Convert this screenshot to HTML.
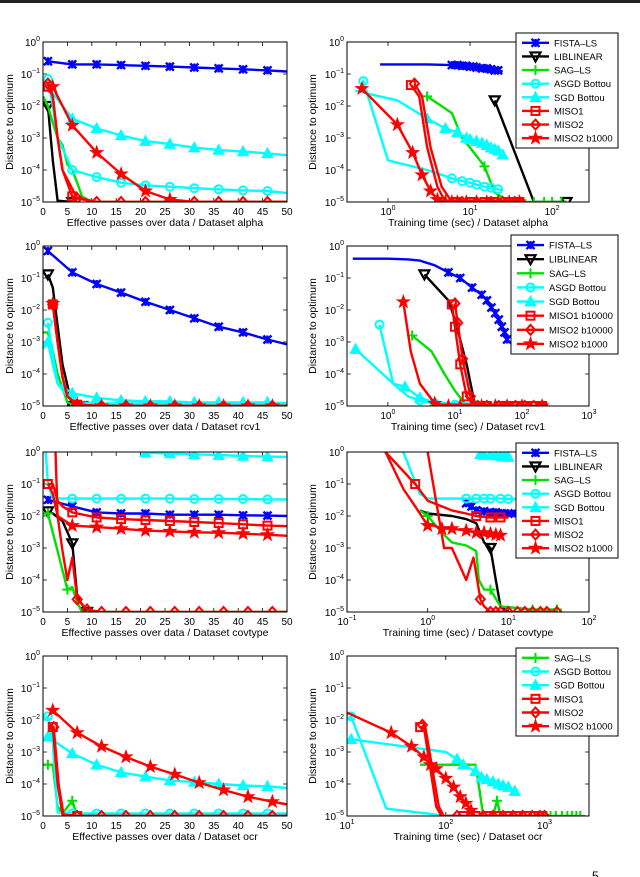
<!DOCTYPE html>
<html><head><meta charset="utf-8">
<style>
html,body{margin:0;padding:0;background:#fff;}
svg{display:block;font-family:"Liberation Sans",Arial,sans-serif;}
</style></head>
<body>
<svg id="fig" width="640" height="877" viewBox="0 0 640 877" xmlns="http://www.w3.org/2000/svg">
<rect x="0" y="0" width="640" height="3" fill="#222"/>
<text x="592" y="880" font-size="12">5</text>
</svg>
<script>
// ---- series data (x, y = distance to optimum, m = indices with markers) ----
const p1 = [
 {k:'FISTA', x:[1,6,11,16,21,26,31,36,41,46,50], y:[0.25,0.2,0.2,0.19,0.18,0.17,0.16,0.15,0.14,0.13,0.12], m:[0,1,2,3,4,5,6,7,8,9]},
 {k:'LIB', x:[0,1,2,3,6], y:[0.02,0.01,2e-4,1.1e-5,1e-5], m:[1,4]},
 {k:'SAG', x:[0,1,2,3,4,5,6,7,8,10,50], y:[0.02,0.01,3e-3,1e-3,6e-4,1.5e-4,1e-4,4e-5,1.5e-5,1e-5,1e-5], m:[]},
 {k:'ASGD', x:[0,1,2,3,6,11,16,21,26,31,36,41,46,50], y:[0.03,0.07,0.01,1e-3,1e-4,6e-5,4e-5,3.3e-5,3e-5,2.7e-5,2.5e-5,2.3e-5,2.2e-5,1.9e-5], m:[1,4,5,6,7,8,9,10,11,12]},
 {k:'SGD', x:[0,1,6,11,16,21,26,31,36,41,46,50], y:[0.03,0.04,4e-3,2e-3,1.2e-3,8e-4,6.5e-4,5e-4,4.2e-4,3.8e-4,3.3e-4,2.9e-4], m:[1,2,3,4,5,6,7,8,9,10]},
 {k:'MISO1', x:[1,2,3,4,6,11,50], y:[0.04,0.02,1e-3,1e-4,1.5e-5,1e-5,1e-5], m:[0,4]},
 {k:'MISO2', x:[1,2,3,4,7,11,16,21,26,31,36,41,46,50], y:[0.05,0.02,1e-3,1e-4,1.3e-5,1e-5,1e-5,1e-5,1e-5,1e-5,1e-5,1e-5,1e-5,1e-5], m:[0,4,5,6,7,8,9,10,11,12]},
 {k:'B1000', x:[2,6,11,16,21,26,31,36,41,46,50], y:[0.04,2.5e-3,3.5e-4,7.5e-5,2.2e-5,1.2e-5,1e-5,1e-5,1e-5,1e-5,1e-5], m:[0,1,2,3,4,5]}
];
const p2 = [
 {k:'FISTA', x:[0.8,3,6,7,8,9,10,11,12,14,16,18,20,22,25], y:[0.2,0.2,0.19,0.19,0.18,0.18,0.17,0.17,0.16,0.15,0.15,0.14,0.13,0.13,0.12], m:[2,3,4,5,6,7,8,9,10,11,12,13]},
 {k:'LIB', x:[20,60,80,150], y:[0.015,1e-5,1e-5,1e-5], m:[0,3]},
 {k:'SAG', x:[3,6,8,10,15,20,30,40,60,80,100,130], y:[0.02,6e-3,1e-3,5e-4,1.3e-4,2e-5,1e-5,1e-5,1e-5,1e-5,1e-5,1e-5], m:[0,4,8,9,10,11]},
 {k:'ASGD', x:[0.45,0.5,1.0,3,6,8,10,12,15,18,22,25], y:[0.03,0.06,2e-4,1e-4,5.5e-5,4.5e-5,4e-5,3.5e-5,3e-5,2.8e-5,2.5e-5,2.2e-5], m:[1,4,5,6,7,8,9,10]},
 {k:'SGD', x:[0.4,1.3,3,5,7,9,10,12,14,16,18,20,22,25], y:[0.03,0.015,4e-3,2e-3,1.5e-3,1e-3,9e-4,8e-4,7e-4,6e-4,5e-4,4.5e-4,4e-4,3e-4], m:[2,3,4,5,6,7,8,9,10,11,12,13]},
 {k:'MISO1', x:[1.9,2.4,3,4,5,7,10,15,20,30,40], y:[0.045,0.02,5e-4,3e-5,1e-5,1e-5,1e-5,1e-5,1e-5,1e-5,1e-5], m:[0,5,6,7,8,9,10]},
 {k:'MISO2', x:[2.1,2.6,3.3,4.5,6,8,12,18,25,35,40], y:[0.05,0.02,5e-4,3e-5,1e-5,1e-5,1e-5,1e-5,1e-5,1e-5,1e-5], m:[0,5,6,7,8,9,10]},
 {k:'B1000', x:[0.48,1.3,2.0,2.6,3.3,4,5,6,7,9,12,16,22,30,40], y:[0.035,2.6e-3,3.5e-4,7e-5,2.2e-5,1.2e-5,1e-5,1e-5,1e-5,1e-5,1e-5,1e-5,1e-5,1e-5,1e-5]}
];
const p3 = [
 {k:'FISTA', x:[1,6,11,16,21,26,31,36,41,46,50], y:[0.7,0.15,0.065,0.035,0.018,0.01,0.0055,0.003,0.002,0.0012,0.00085], m:[0,1,2,3,4,5,6,7,8,9]},
 {k:'LIB', x:[1,2,4,6,8], y:[0.13,0.05,2e-4,1e-5,1e-5], m:[0,3,4]},
 {k:'SAG', x:[0,1,2,3,5,7,50], y:[2e-3,2e-3,5e-4,1e-4,1.3e-5,1e-5,1e-5], m:[]},
 {k:'ASGD', x:[1,2,3,5,8,11,50], y:[4e-3,4e-4,5e-5,2e-5,1.3e-5,1.2e-5,1.2e-5], m:[0]},
 {k:'SGD', x:[0,1,2,3,6,11,16,21,26,31,36,41,46,50], y:[6e-4,1e-3,2e-4,5e-5,2.5e-5,1.8e-5,1.5e-5,1.4e-5,1.4e-5,1.3e-5,1.3e-5,1.3e-5,1.3e-5,1.2e-5], m:[1,4,5,6,7,8,9,10,11,12]},
 {k:'MISO1', x:[2,3,4,5,7,11,50], y:[0.015,1e-3,8e-5,2e-5,1.1e-5,1e-5,1e-5], m:[0,4]},
 {k:'MISO2', x:[2,3,4,5,7,12,17,22,27,32,37,42,47,50], y:[0.015,1e-3,8e-5,2e-5,1.1e-5,1e-5,1e-5,1e-5,1e-5,1e-5,1e-5,1e-5,1e-5,1e-5], m:[0,4,5,6,7,8,9,10,11,12]},
 {k:'B1000', x:[2,3,4,5,7,12,17,22,27,32,37,42,47,50], y:[0.016,1e-3,8e-5,2e-5,1.1e-5,1e-5,1e-5,1e-5,1e-5,1e-5,1e-5,1e-5,1e-5,1e-5], m:[0,4,5,6,7,8,9,10,11,12]}
];
const p4 = [
 {k:'FISTA', x:[0.3,1,2,3,5,8,12,18,25,30,35,40,45,50,55,60], y:[0.4,0.4,0.38,0.35,0.25,0.15,0.1,0.05,0.03,0.02,0.012,0.008,0.005,0.003,0.002,0.0012], m:[5,6,7,8,9,10,11,12,13,14,15]},
 {k:'LIB', x:[3.5,8,10,15,20,25,40], y:[0.13,0.02,5e-3,2e-4,1e-5,1e-5,1e-5], m:[0]},
 {k:'SAG', x:[2.3,4.5,7,10,15], y:[1.6e-3,5e-4,1e-4,3e-5,1e-5], m:[0]},
 {k:'ASGD', x:[0.75,1.2,2,3,5,10,20], y:[3.5e-3,5e-5,2e-5,1.5e-5,1.2e-5,1.1e-5,1.1e-5], m:[0,3,4,5,6]},
 {k:'SGD', x:[0.33,1.2,1.8,3,5,10,20], y:[6e-4,5e-5,4e-5,1.8e-5,1.3e-5,1.2e-5,1.2e-5], m:[0,2,3,4]},
 {k:'MISO1', x:[9,10,12,15,20,30,45,60,80,110,150,200], y:[0.015,0.003,2e-4,2e-5,1e-5,1e-5,1e-5,1e-5,1e-5,1e-5,1e-5,1e-5]},
 {k:'MISO2', x:[10,11,13,17,22,30,45,60,80,110,150,200], y:[0.016,0.004,3e-4,2e-5,1e-5,1e-5,1e-5,1e-5,1e-5,1e-5,1e-5,1e-5]},
 {k:'B1000', x:[1.7,2.2,3,5,8,12,18,25,40,60,100,200], y:[0.018,5e-4,5e-5,1.2e-5,1e-5,1e-5,1e-5,1e-5,1e-5,1e-5,1e-5,1e-5], m:[0,3,4,5,6,7,8,9,10,11]}
];
const p5 = [
 {k:'FISTA', x:[1,6,11,16,21,26,31,36,41,46,50], y:[0.032,0.02,0.013,0.012,0.012,0.011,0.011,0.011,0.0105,0.0103,0.01], m:[0,1,2,3,4,5,6,7,8,9]},
 {k:'LIB', x:[1,2,4,6,7,9], y:[0.014,0.012,0.007,1.4e-3,3e-5,1e-5], m:[0,3,5]},
 {k:'SAG', x:[0,1,2,3,5,6,7,8,9,50], y:[0.012,0.012,3e-3,8e-4,5e-5,6e-5,2e-5,1e-5,1e-5,1e-5], m:[1,4]},
 {k:'ASGD', x:[0.5,1,2,6,11,16,21,26,31,36,41,46,50], y:[1.5,0.1,0.035,0.035,0.035,0.035,0.035,0.035,0.034,0.034,0.034,0.033,0.033], m:[3,4,5,6,7,8,9,10,11]},
 {k:'SGD', x:[20,21,26,31,36,41,46,50], y:[1.05,0.95,0.9,0.85,0.8,0.75,0.72,0.7], m:[1,2,3,4,5,6]},
 {k:'MISO1', x:[1,2,3,4,6,11,16,21,26,31,36,41,46,50], y:[0.1,0.1,0.03,0.02,0.013,0.009,0.008,0.0075,0.007,0.0065,0.006,0.0055,0.005,0.0048], m:[0,4,5,6,7,8,9,10,11,12]},
 {k:'MISO2', x:[2.5,3,4,5,6,7,9,12,17,22,27,32,37,42,47,50], y:[2,0.01,8e-4,1e-4,5e-4,2.5e-5,1.2e-5,1e-5,1e-5,1e-5,1e-5,1e-5,1e-5,1e-5,1e-5,1e-5], m:[5,6,7,8,9,10,11,12,13,14]},
 {k:'B1000', x:[1,2,3,6,11,16,21,26,31,36,41,46,50], y:[0.1,0.05,0.01,0.005,0.0045,0.004,0.0035,0.0033,0.0031,0.003,0.0028,0.0026,0.0024], m:[3,4,5,6,7,8,9,10,11]}
];
const p6 = [
 {k:'FISTA', x:[3,3.5,4,5,6,7,8,9,10,12], y:[0.025,0.02,0.015,0.014,0.013,0.013,0.012,0.012,0.012,0.012]},
 {k:'LIB', x:[0.8,1,2,3,4,5,6,7,8,10], y:[0.015,0.012,0.01,0.008,0.006,1.5e-3,1e-3,1e-4,1.5e-5,1e-5], m:[6]},
 {k:'SAG', x:[0.8,1,1.5,2,3,4,4.3,5,6,8,20,40], y:[0.015,0.01,3e-3,1.5e-3,1.2e-3,8e-4,1e-4,5e-5,5e-5,1.5e-5,1.2e-5,1.2e-5], m:[1,8,10,11]},
 {k:'ASGD', x:[0.5,0.8,1,1.5,2,3,4,5,6,8,10,15,20], y:[1,0.05,0.035,0.035,0.035,0.035,0.035,0.035,0.035,0.035,0.034,0.034,0.034], m:[5,6,7,8,9,10,11,12]},
 {k:'SGD', x:[4.5,5,6,7,8,9,10], y:[0.85,0.8,0.8,0.78,0.75,0.72,0.7]},
 {k:'MISO1', x:[0.3,0.7,1,2,3,4,6,8,10], y:[1,0.1,0.03,0.015,0.012,0.01,0.009,0.009,0.009], m:[1,5,6,7]},
 {k:'MISO2', x:[1.0,1.6,2,3,3.7,4.5,5,6,7,8,10,13,16,20,25,30,40], y:[1,1e-3,1e-3,1e-4,5e-4,2.5e-5,1.5e-5,1e-5,1e-5,1e-5,1e-5,1e-5,1e-5,1e-5,1e-5,1e-5,1e-5], m:[5,7,8,9,10,11,12,13,14,15,16]},
 {k:'B1000', x:[0.3,0.5,0.7,1,1.2,1.5,2,3,4,5,6,7,8], y:[1,0.07,0.02,0.005,0.005,0.004,0.004,0.0035,0.003,0.003,0.0028,0.0026,0.0025], m:[3,5,6,7,8,9,10,11,12]}
];
const p7 = [
 {k:'SAG', x:[0,1,2,3,4,6,7,50], y:[4e-4,4e-4,4e-4,2e-5,1.2e-5,3e-5,1e-5,1e-5], m:[1,5]},
 {k:'ASGD', x:[0,1,2,3,6,11,16,21,26,31,36,41,46,50], y:[0.01,0.013,2e-3,1.3e-5,1.2e-5,1.2e-5,1.2e-5,1.2e-5,1.2e-5,1.2e-5,1.2e-5,1.2e-5,1.2e-5,1.2e-5], m:[1,4,5,6,7,8,9,10,11,12]},
 {k:'SGD', x:[0,1,6,11,16,21,26,31,36,41,46,50], y:[2.5e-3,3e-3,9e-4,4e-4,2.3e-4,1.7e-4,1.3e-4,1.15e-4,1.0e-4,9e-5,8.5e-5,7.5e-5], m:[1,2,3,4,5,6,7,8,9,10]},
 {k:'MISO1', x:[1.5,2,3,4,7,12,50], y:[6e-3,6e-3,1e-4,1.1e-5,1e-5,1e-5,1e-5], m:[1,4]},
 {k:'MISO2', x:[1.7,2.2,3.2,4.2,7,12,17,22,27,32,37,42,47,50], y:[7e-3,6e-3,1e-4,1.1e-5,1e-5,1e-5,1e-5,1e-5,1e-5,1e-5,1e-5,1e-5,1e-5,1e-5], m:[1,4,5,6,7,8,9,10,11,12]},
 {k:'B1000', x:[2,7,12,17,22,27,32,37,42,47,50], y:[0.02,4e-3,1.5e-3,7e-4,3.5e-4,2e-4,1.1e-4,6.5e-5,4e-5,2.8e-5,2.3e-5], m:[0,1,2,3,4,5,6,7,8,9]}
];
const p8 = [
 {k:'SAG', x:[55,90,200,215,240,300,330,360,1000,1150,1300,1500,1700,1900,2100,2300], y:[4e-4,4e-4,4e-4,1e-4,1e-5,1e-5,3e-5,1e-5,1e-5,1e-5,1e-5,1e-5,1e-5,1e-5,1e-5,1e-5], m:[6,8,9,10,11,12,13,14,15]},
 {k:'ASGD', x:[10,11,25,80,90,110,150,200,300,400,600,900], y:[0.01,0.013,1.7e-5,1.1e-5,1e-5,1e-5,1e-5,1e-5,1e-5,1e-5,1e-5,1e-5], m:[1]},
 {k:'SGD', x:[11,100,130,150,200,230,260,300,340,380,430,500], y:[2.5e-3,1e-3,6e-4,4e-4,2.5e-4,1.6e-4,1.4e-4,1.2e-4,1e-4,9e-5,8e-5,6e-5], m:[0,2,3,4,5,6,7,8,9,10,11]},
 {k:'MISO1', x:[55,60,80,90,150,200,260,330,420,520,650,800,950], y:[6e-3,6e-3,2e-5,1e-5,1e-5,1e-5,1e-5,1e-5,1e-5,1e-5,1e-5,1e-5,1e-5], m:[0,4,5,6,7,8,9,10,11,12]},
 {k:'MISO2', x:[58,62,85,95,130,180,240,300,380,480,600,750,900,1000], y:[7e-3,6e-3,2e-5,1e-5,1e-5,1e-5,1e-5,1e-5,1e-5,1e-5,1e-5,1e-5,1e-5,1e-5], m:[0,4,5,6,7,8,9,10,11,12,13]},
 {k:'B1000', x:[10,28,45,60,70,80,100,120,140,160,180], y:[0.017,4e-3,1.5e-3,7e-4,4e-4,3e-4,1.5e-4,8e-5,4e-5,2.5e-5,1.5e-5], m:[1,2,3,4,5,6,7,8,9,10]}
];
// ---- axis tick labels ----
const linTicks = [0,5,10,15,20,25,30,35,40,45,50];
const yExps = [0,-1,-2,-3,-4,-5];
const legendFull = ['FISTA','LIB','SAG','ASGD','SGD','MISO1','MISO2','B1000'];
const legendNames1 = ['FISTA–LS','LIBLINEAR','SAG–LS','ASGD Bottou','SGD Bottou','MISO1','MISO2','MISO2 b1000'];
const legendNames2 = ['FISTA–LS','LIBLINEAR','SAG–LS','ASGD Bottou','SGD Bottou','MISO1 b10000','MISO2 b10000','MISO2 b1000'];
const legendKeys4 = ['SAG','ASGD','SGD','MISO1','MISO2','B1000'];
const legendNames4 = ['SAG–LS','ASGD Bottou','SGD Bottou','MISO1','MISO2','MISO2 b1000'];

const ST = {FISTA:{c:'#0000ff',mk:'x'},LIB:{c:'#000000',mk:'tv'},SAG:{c:'#00e000',mk:'+'},ASGD:{c:'#00ffff',mk:'o'},SGD:{c:'#00ffff',mk:'t'},MISO1:{c:'#ff0000',mk:'s'},MISO2:{c:'#ff0000',mk:'d'},B1000:{c:'#ff0000',mk:'*'}};
const NS='http://www.w3.org/2000/svg';
const svg=document.getElementById('fig');
function el(tag,attrs,parent){const e=document.createElementNS(NS,tag);for(const a in attrs)e.setAttribute(a,attrs[a]);(parent||svg).appendChild(e);return e;}

function marker(g,type,cx,cy,c){
  let e;
  if(type==='o'){e=el('circle',{cx,cy,r:4,fill:'none',stroke:c,'stroke-width':2},g);}
  else if(type==='s'){e=el('rect',{x:cx-4,y:cy-4,width:8,height:8,fill:'none',stroke:c,'stroke-width':2},g);}
  else if(type==='d'){e=el('polygon',{points:`${cx},${cy-5} ${cx+4.5},${cy} ${cx},${cy+5} ${cx-4.5},${cy}`,fill:'none',stroke:c,'stroke-width':2},g);}
  else if(type==='t'){e=el('polygon',{points:`${cx},${cy-5} ${cx+5},${cy+4} ${cx-5},${cy+4}`,fill:c,stroke:c,'stroke-width':1.5},g);}
  else if(type==='tv'){e=el('polygon',{points:`${cx-5},${cy-4} ${cx+5},${cy-4} ${cx},${cy+5}`,fill:'none',stroke:c,'stroke-width':2.2},g);}
  else if(type==='+'){e=el('path',{d:`M${cx-5},${cy}H${cx+5}M${cx},${cy-5}V${cy+5}`,stroke:c,'stroke-width':2,fill:'none'},g);}
  else if(type==='x'){e=el('path',{d:`M${cx-4},${cy-4}L${cx+4},${cy+4}M${cx+4},${cy-4}L${cx-4},${cy+4}M${cx},${cy-4}V${cy+4}`,stroke:c,'stroke-width':2.4,fill:'none'},g);}
  else {let p=[];for(let i=0;i<10;i++){const r=i%2?2.6:6.5,a=-Math.PI/2+i*Math.PI/5;p.push((cx+r*Math.cos(a)).toFixed(1)+','+(cy+r*Math.sin(a)).toFixed(1));}
    e=el('polygon',{points:p.join(' '),fill:c,stroke:c,'stroke-width':1},g);}
  
  
}
function powLabel(g,x,y,exp,anchor){
  const t=el('text',{x,y,'font-size':10,'text-anchor':anchor},g);
  
  
  t.appendChild(document.createTextNode('10'));
  const s=el('tspan',{'font-size':7,dy:-5},t);s.textContent=String(exp).replace('-','−');
}
let pid=0;
function panel(cfg){
  pid++;
  const {L,T,W,H}=cfg;
  const g=el('g',{});
  
  
  const sx = cfg.log ? v=>L+(Math.log10(v)-cfg.xmin)/(cfg.xmax-cfg.xmin)*W : v=>L+v/50*W;
  const sy = v=>T+(0-Math.log10(v))/5*H;
  const cp=el('clipPath',{id:'cp'+pid},g);el('rect',{x:L,y:T,width:W,height:H},cp);
  const box=el('rect',{x:L,y:T,width:W,height:H,fill:'#fff',stroke:'none'},g);
  
  
  yExps.forEach(e=>{const y=sy(Math.pow(10,e));
    el('path',{d:`M${L},${y}h4M${L+W},${y}h-4`,stroke:'#000','stroke-width':0.8},g);
    powLabel(g,L-3,y+4,e,'end');});
  if(cfg.log){for(let e=Math.ceil(cfg.xmin-1e-9);e<=cfg.xmax+1e-9;e++){const x=sx(Math.pow(10,e));
      el('path',{d:`M${x},${T+H}v-4M${x},${T}v4`,stroke:'#000','stroke-width':0.8},g);
      powLabel(g,x,T+H+13,e,'middle');}}
  else linTicks.forEach(v=>{const x=sx(v);
      el('path',{d:`M${x},${T+H}v-4M${x},${T}v4`,stroke:'#000','stroke-width':0.8},g);
      const t=el('text',{x,y:T+H+13,'font-size':10,'text-anchor':'middle'},g);
      
      
      t.textContent=v;});
  const sg=el('g',{'clip-path':`url(#cp${pid})`},g);
  cfg.s.forEach(s=>{const st=ST[s.k];
    const pts=s.x.map((v,i)=>sx(v).toFixed(1)+','+sy(s.y[i]).toFixed(1)).join(' ');
    const pl=el('polyline',{points:pts,fill:'none',stroke:st.c,'stroke-width':2.4,'stroke-linejoin':'round'},sg);
    
    
    const idx=s.m||s.x.map((_,i)=>i);
    idx.forEach(i=>marker(sg,st.mk,sx(s.x[i]),sy(s.y[i]),st.c));});
  const fr=el('rect',{x:L,y:T,width:W,height:H,fill:'none',stroke:'#000','stroke-width':1},g);
  
  
  const xl=el('text',{x:L+W/2,y:T+H+24,'font-size':10.5,'text-anchor':'middle'},g);
  
  
  xl.textContent=cfg.xlabel;
  const yx=cfg.log?316:13;
  const yl=el('text',{x:yx,y:T+H/2,'font-size':10.5,'text-anchor':'middle',transform:`rotate(-90 ${yx} ${T+H/2})`},g);
  
  
  yl.textContent='Distance to optimum';
  if(cfg.leg){const [lx,ly,lw,lh]=cfg.leg.box;
    const lg=el('g',{},g);
    
    
    el('rect',{x:lx,y:ly,width:lw,height:lh,fill:'#fff',stroke:'#000','stroke-width':1},lg);
    const n=cfg.leg.keys.length, step=(lh-6)/n;
    cfg.leg.keys.forEach((k,i)=>{const y=ly+3+step*(i+0.5);const st=ST[k];
      const ln=el('path',{d:`M${lx+6},${y}H${lx+33}`,stroke:st.c,'stroke-width':2.4},lg);
      
      
      marker(lg,st.mk,lx+19.5,y,st.c);
      const t=el('text',{x:lx+38,y:y+3.5,'font-size':9.5},lg);
      
      
      t.textContent=cfg.leg.names[i];});}
}
const LL=43,LW=244,RL=347,RW=242,PH=160;
panel({id:'alpha-passes',L:LL,T:42,W:LW,H:PH,s:p1,xlabel:'Effective passes over data / Dataset alpha'});
panel({id:'alpha-time',L:RL,T:42,W:RW,H:PH,log:true,xmin:-0.5,xmax:2.45,s:p2,xlabel:'Training time (sec) / Dataset alpha',leg:{box:[516,33,102,115],keys:legendFull,names:legendNames1}});
panel({id:'rcv1-passes',L:LL,T:246,W:LW,H:PH,s:p3,xlabel:'Effective passes over data / Dataset rcv1'});
panel({id:'rcv1-time',L:RL,T:246,W:RW,H:PH,log:true,xmin:-0.61,xmax:3,s:p4,xlabel:'Training time (sec) / Dataset rcv1',leg:{box:[511,235,107,119],keys:legendFull,names:legendNames2}});
panel({id:'covtype-passes',L:LL,T:452,W:LW,H:PH,s:p5,xlabel:'Effective passes over data / Dataset covtype'});
panel({id:'covtype-time',L:RL,T:452,W:RW,H:PH,log:true,xmin:-1,xmax:2,s:p6,xlabel:'Training time (sec) / Dataset covtype',leg:{box:[516,443,102,115],keys:legendFull,names:legendNames1}});
panel({id:'ocr-passes',L:LL,T:656,W:LW,H:PH,s:p7,xlabel:'Effective passes over data / Dataset ocr'});
panel({id:'ocr-time',L:RL,T:656,W:RW,H:PH,log:true,xmin:1,xmax:3.45,s:p8,xlabel:'Training time (sec) / Dataset ocr',leg:{box:[516,648,102,88],keys:legendKeys4,names:legendNames4}});
</script>
</body></html>
